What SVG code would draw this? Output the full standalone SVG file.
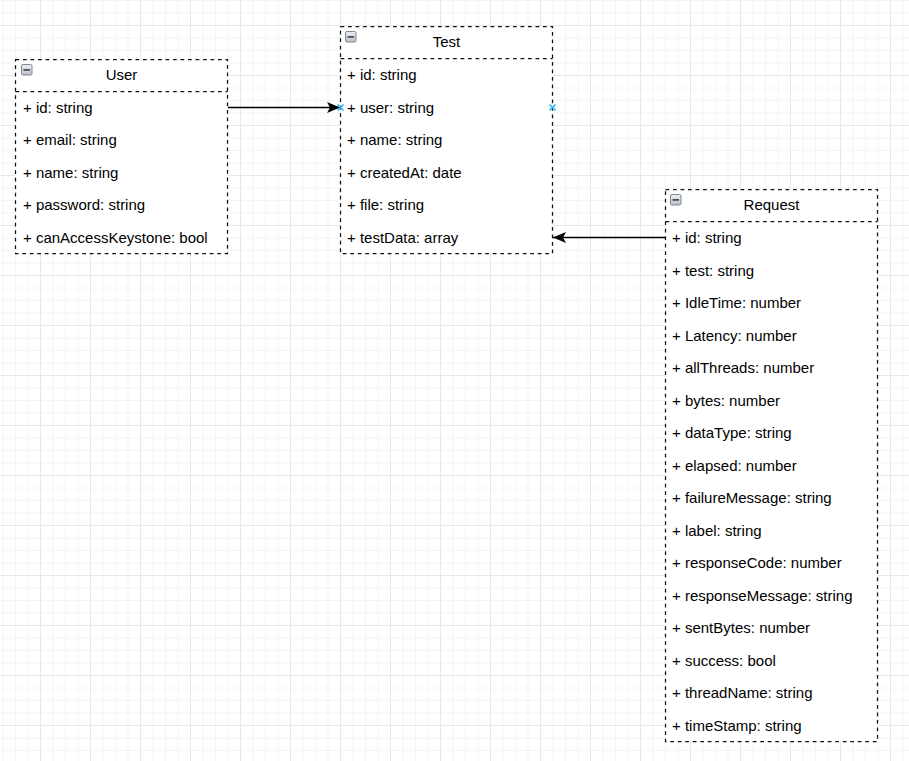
<svg xmlns="http://www.w3.org/2000/svg" width="909" height="761" viewBox="0 0 909 761">
<defs>
<pattern id="grid" x="0" y="0" width="50" height="50" patternUnits="userSpaceOnUse">
<path d="M3,0V50M15.5,0V50M28,0V50M0,0.5H50M0,13H50M0,38H50" stroke="#f4f4f4" stroke-width="1" fill="none"/>
<path d="M40.5,0V50M0,25.5H50" stroke="#e8e8e8" stroke-width="1" fill="none"/>
</pattern>
<linearGradient id="ig" x1="0" y1="0" x2="0" y2="1">
<stop offset="0" stop-color="#eef0f3"/>
<stop offset="1" stop-color="#b8bec6"/>
</linearGradient>
<marker id="arr" markerWidth="14" markerHeight="12" refX="13" refY="6" orient="auto" markerUnits="userSpaceOnUse">
<path d="M13,6 L0,0.5 L3,6 L0,11.5 Z" fill="#000"/>
</marker>
<g id="icon">
<rect x="0.5" y="0.5" width="10.5" height="10.5" rx="1.5" fill="url(#ig)" stroke="#7f8790"/>
<rect x="2.5" y="5" width="6.5" height="1.8" fill="#4a4f55"/>
</g>
</defs>
<style>
.box{fill:#fff;stroke:#111;stroke-width:1.25;stroke-dasharray:3.75 3.75}
.sep{stroke:#111;stroke-width:1.25;stroke-dasharray:3.75 3.75;fill:none}
.t{font-family:"Liberation Sans",Arial,sans-serif;font-size:15px;fill:#000}
.h{text-anchor:middle}
.edge{stroke:#000;stroke-width:1.3;fill:none}
.pt{stroke:#29b6f2;stroke-width:1.6;fill:none}
</style>
<rect width="909" height="761" fill="#fff"/>
<rect width="909" height="761" fill="url(#grid)"/>

<g id="connectors">
<path class="edge" d="M228,107.5 H340" marker-end="url(#arr)"/>
<path class="edge" d="M665,237.5 H553" marker-end="url(#arr)"/>
</g>

<g id="User">
<rect class="box" x="15.5" y="59.5" width="212" height="194"/>
<path class="sep" d="M15.5,91.5H227.5"/>
<use href="#icon" x="21" y="64"/>
<text class="t h" x="121.5" y="80">User</text>
<text class="t" x="23" y="112.5">+ id: string</text>
<text class="t" x="23" y="145">+ email: string</text>
<text class="t" x="23" y="177.5">+ name: string</text>
<text class="t" x="23" y="210">+ password: string</text>
<text class="t" x="23" y="242.5">+ canAccessKeystone: bool</text>
</g>

<g id="Test">
<rect class="box" x="340.5" y="26.5" width="212" height="227"/>
<path class="sep" d="M340.5,58.5H552.5"/>
<use href="#icon" x="345" y="31"/>
<text class="t h" x="446.5" y="47">Test</text>
<text class="t" x="347" y="80">+ id: string</text>
<text class="t" x="347" y="112.5">+ user: string</text>
<text class="t" x="347" y="145">+ name: string</text>
<text class="t" x="347" y="177.5">+ createdAt: date</text>
<text class="t" x="347" y="210">+ file: string</text>
<text class="t" x="347" y="242.5">+ testData: array</text>
</g>

<g id="Request">
<rect class="box" x="665.5" y="189.5" width="212" height="552"/>
<path class="sep" d="M665.5,221.5H877.5"/>
<use href="#icon" x="670" y="194"/>
<text class="t h" x="771.5" y="210">Request</text>
<text class="t" x="672" y="243">+ id: string</text>
<text class="t" x="672" y="275.5">+ test: string</text>
<text class="t" x="672" y="308">+ IdleTime: number</text>
<text class="t" x="672" y="340.5">+ Latency: number</text>
<text class="t" x="672" y="373">+ allThreads: number</text>
<text class="t" x="672" y="405.5">+ bytes: number</text>
<text class="t" x="672" y="438">+ dataType: string</text>
<text class="t" x="672" y="470.5">+ elapsed: number</text>
<text class="t" x="672" y="503">+ failureMessage: string</text>
<text class="t" x="672" y="535.5">+ label: string</text>
<text class="t" x="672" y="568">+ responseCode: number</text>
<text class="t" x="672" y="600.5">+ responseMessage: string</text>
<text class="t" x="672" y="633">+ sentBytes: number</text>
<text class="t" x="672" y="665.5">+ success: bool</text>
<text class="t" x="672" y="698">+ threadName: string</text>
<text class="t" x="672" y="730.5">+ timeStamp: string</text>
</g>

<g id="connection-points">
<path class="pt" d="M337.5,104.5l6,6M343.5,104.5l-6,6"/>
<path class="pt" d="M549.5,104.5l6,6M555.5,104.5l-6,6"/>
</g>
</svg>
